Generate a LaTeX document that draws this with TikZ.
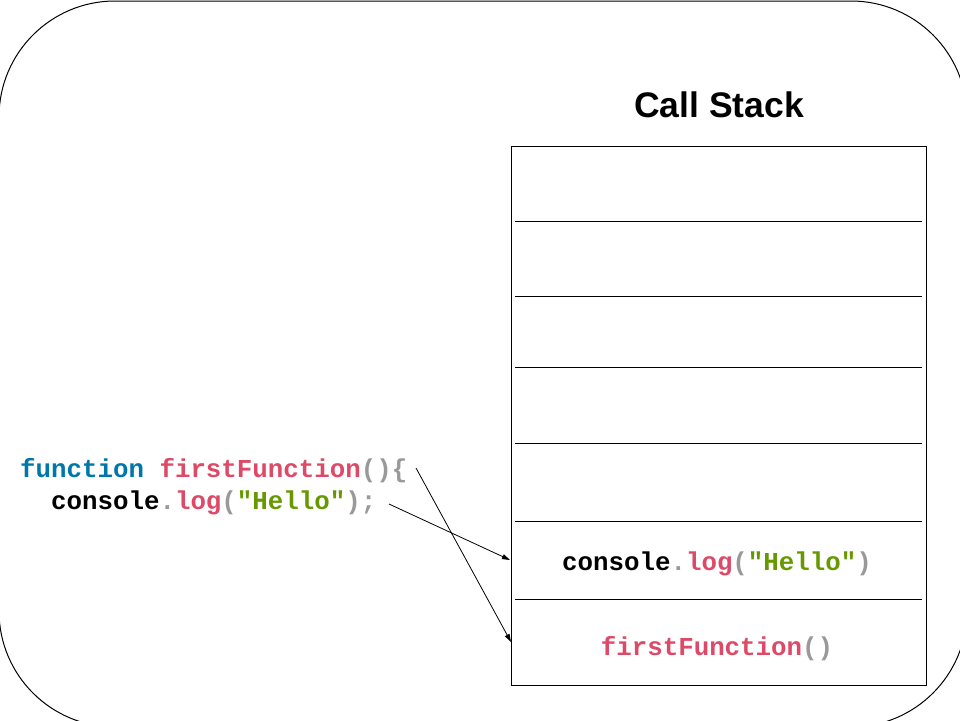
\documentclass[tikz,border=0pt]{standalone}
\usepackage{fontspec}
\usetikzlibrary{arrows.meta}
\newfontfamily\codefont{Liberation Mono}[BoldFont={Liberation Mono Bold}]
\newfontfamily\titlefont{Liberation Sans}[BoldFont={Liberation Sans Bold}]
\definecolor{kw}{HTML}{0077AA}
\definecolor{fn}{HTML}{DD4A68}
\definecolor{pn}{HTML}{999999}
\definecolor{str}{HTML}{669900}
\tikzset{
  code/.style={inner sep=0pt, font=\codefont\bfseries\fontsize{25.8}{32}\selectfont},
  title/.style={inner sep=0pt, font=\titlefont\bfseries\fontsize{35.5}{42}\selectfont},
  stackbox/.style={draw, line width=1.1pt, inner sep=0pt, minimum width=415pt, minimum height=539pt},
  divider/.style={line width=0.9pt},
  arr/.style={line width=0.8pt, -{Triangle[length=8pt,width=5pt]}},
  outer/.style={line width=1pt, rounded corners=116pt}
}
\begin{document}
\begin{tikzpicture}[x=1pt,y=-1pt]
\useasboundingbox (0,0) rectangle (960,720);
\begin{scope}
  \clip (0,0) rectangle (960,720);
  \draw[outer] (-1,1) rectangle (967,727);
\end{scope}

\node[title, anchor=base] (title) at (719,117) {Call Stack};

\node[stackbox, anchor=north west] (stack) at (511,146) {};
\foreach \yy in {221,296,367,443,521,599}{
  \draw[divider] (515,\yy) -- (922,\yy);
}

\node[code, anchor=base] (cell6) at (717,570)
  {console{\color{pn}.}{\color{fn}log}{\color{pn}(}{\color{str}"Hello"}{\color{pn})}};
\node[code, anchor=base] (cell7) at (717,655)
  {{\color{fn}firstFunction}{\color{pn}()}};

\node[code, anchor=base west] (line1) at (20,477)
  {{\color{kw}function} {\color{fn}firstFunction}{\color{pn}()\{}};
\node[code, anchor=base west] (line2) at (20,509)
  {\phantom{xx}console{\color{pn}.}{\color{fn}log}{\color{pn}(}{\color{str}"Hello"}{\color{pn});}};

\coordinate (a1s) at (416,468);
\coordinate (a1e) at (511,642);
\coordinate (a2s) at (389,504);
\coordinate (a2e) at (510,560);
\draw[arr] (a1s) -- (a1e);
\draw[arr] (a2s) -- (a2e);
\end{tikzpicture}
\end{document}
